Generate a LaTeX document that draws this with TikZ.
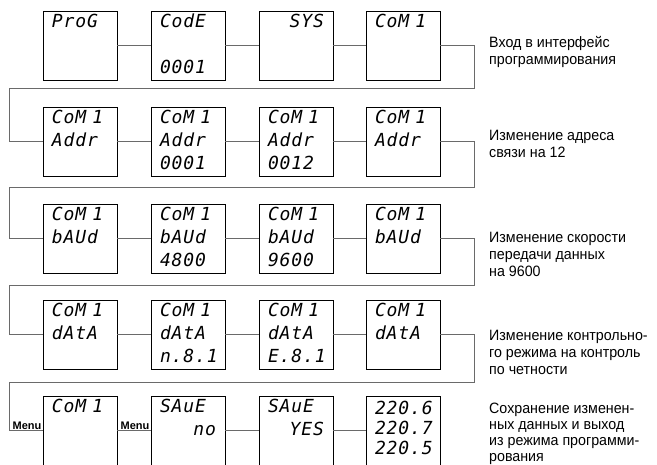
\documentclass[tikz,border=0pt]{standalone}
\usepackage{fontspec}
\usepackage{tikz}
\usetikzlibrary{calc}
\newfontfamily\lcd[LetterSpace=5]{DejaVu Sans Mono}
\newfontfamily\desc[FakeStretch=0.95]{Liberation Sans}
\newfontfamily\keyfont{Liberation Sans}
\definecolor{wire}{HTML}{6A6A6A}
\newcommand{\screen}[3]{\strut#1\\\strut#2\\\strut#3}

\begin{document}
\begin{tikzpicture}[x=1pt,y=-1pt,
  disp/.style={draw,line width=0.9pt,minimum width=74pt,minimum height=69pt,inner sep=0pt,text width=56pt,align=left,font=\lcd\itshape\fontsize{18}{23}\selectfont},
  link/.style={wire,line width=1pt},
  note/.style={anchor=north west,inner sep=0pt,align=left,font=\desc\fontsize{15}{17}\selectfont,execute at begin node=\strut},
  menu/.style={anchor=south east,inner sep=1pt,font=\keyfont\bfseries\fontsize{11}{13}\selectfont},
]
  \useasboundingbox (0,0) rectangle (657,465);

  % row 1: entering programming
  \node[disp] (d11) at (80,45.5) {\screen{ProG}{}{}};
  \node[disp] (d12) at (188,45.5) {\screen{CodE}{}{0001}};
  \node[disp] (d13) at (296,45.5) {\screen{\hfill SYS}{}{}};
  \node[disp] (d14) at (403,45.5) {\screen{CoM 1}{}{}};
  \node[note] (n1) at (489,36) {Вход в интерфейс\\программирования};

  % row 2: address
  \node[disp] (d21) at (80,142) {\screen{CoM 1}{Addr}{}};
  \node[disp] (d22) at (188,142) {\screen{CoM 1}{Addr}{0001}};
  \node[disp] (d23) at (296,142) {\screen{CoM 1}{Addr}{0012}};
  \node[disp] (d24) at (403,142) {\screen{CoM 1}{Addr}{}};
  \node[note] (n2) at (489,130) {Изменение адреса\\связи на 12};

  % row 3: baud rate
  \node[disp] (d31) at (80,238.5) {\screen{CoM 1}{bAUd}{}};
  \node[disp] (d32) at (188,238.5) {\screen{CoM 1}{bAUd}{4800}};
  \node[disp] (d33) at (296,238.5) {\screen{CoM 1}{bAUd}{9600}};
  \node[disp] (d34) at (403,238.5) {\screen{CoM 1}{bAUd}{}};
  \node[note] (n3) at (489,232) {Изменение скорости\\передачи данных\\на 9600};

  % row 4: parity
  \node[disp] (d41) at (80,335) {\screen{CoM 1}{dAtA}{}};
  \node[disp] (d42) at (188,335) {\screen{CoM 1}{dAtA}{n.8.1}};
  \node[disp] (d43) at (296,335) {\screen{CoM 1}{dAtA}{E.8.1}};
  \node[disp] (d44) at (403,335) {\screen{CoM 1}{dAtA}{}};
  \node[note] (n4) at (489,330) {Изменение контрольно-\\го режима на контроль\\по четности};

  % row 5: save and exit
  \node[disp,minimum height=70pt] (d51) at (80,431) {\screen{CoM 1}{}{}};
  \node[disp,minimum height=70pt] (d52) at (188,431) {\screen{SAuE}{\hfill no}{}};
  \node[disp,minimum height=70pt] (d53) at (296,431) {\screen{SAuE}{\hfill YES}{}};
  \node[disp,minimum height=70pt,font=\lcd\itshape\fontsize{18}{20}\selectfont] (d54) at (403,431) {\screen{220.6}{220.7}{220.5}};
  \node[note,font=\desc\fontsize{15}{16}\selectfont] (n5) at (489,403) {Сохранение изменен-\\ных данных и выход\\из режима программи-\\рования};

  \node[menu] (mk1) at (d51.west) {Menu};
  \node[menu] (mk2) at (d52.west) {Menu};

  % links inside rows
  \foreach \r in {1,...,5}{
    \draw[link] (d\r1) -- (d\r2);
    \draw[link] (d\r2) -- (d\r3);
    \draw[link] (d\r3) -- (d\r4);
  }

  % links between rows
  \coordinate (r1) at (474,89);  \coordinate (l1) at (9,89);
  \coordinate (r2) at (474,188); \coordinate (l2) at (9,188);
  \coordinate (r3) at (474,286); \coordinate (l3) at (9,286);
  \coordinate (r4) at (474,383); \coordinate (l4) at (9,383);
  \draw[link] (d14.east) -| (r1) -- (l1) |- (d21.west);
  \draw[link] (d24.east) -| (r2) -- (l2) |- (d31.west);
  \draw[link] (d34.east) -| (r3) -- (l3) |- (d41.west);
  \draw[link] (d44.east) -| (r4) -- (l4) |- (d51.west);
\end{tikzpicture}
\end{document}
